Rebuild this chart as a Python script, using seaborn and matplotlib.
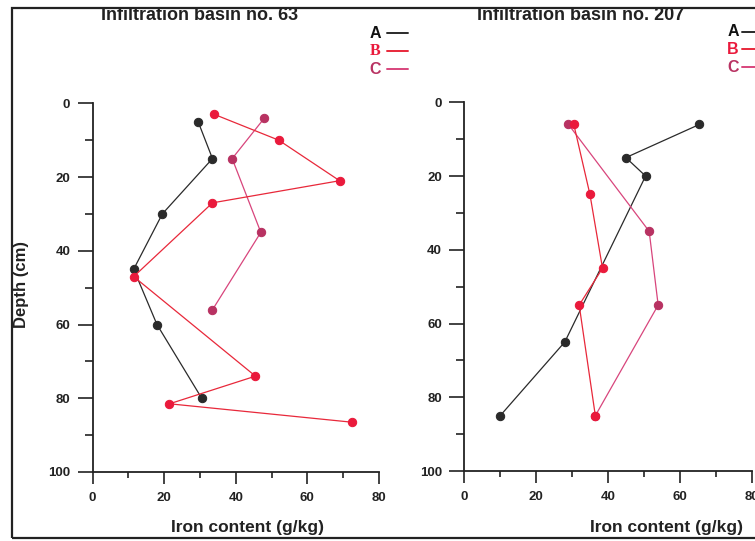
import matplotlib
matplotlib.use("Agg")
import matplotlib.pyplot as plt
from matplotlib.ticker import MultipleLocator
from matplotlib.lines import Line2D
from matplotlib.patches import Rectangle
import seaborn as sns
import pandas as pd

# ---- data ----
titles = ["Infiltration basin no. 63", "Infiltration basin no. 207"]
series_names = ["A", "B", "C"]

left_A_iron = [29.5, 33.5, 19.5, 11.5, 18, 30.5]
left_A_depth = [5, 15, 30, 45, 60, 80]
left_B_iron = [34, 52, 69, 33.5, 11.5, 45.5, 21.5, 72.5]
left_B_depth = [3, 10, 21, 27, 47, 74, 81.5, 86.5]
left_C_iron = [48, 39, 47, 33.5]
left_C_depth = [4, 15, 35, 56]

right_A_iron = [65.5, 45, 50.5, 28, 10]
right_A_depth = [6, 15, 20, 65, 85]
right_B_iron = [30.5, 35, 38.5, 32, 36.5]
right_B_depth = [6, 25, 45, 55, 85]
right_C_iron = [29, 51.5, 54, 36.5]
right_C_depth = [6, 35, 55, 85]

x_ticks = [0, 20, 40, 60, 80]
y_ticks = [0, 20, 40, 60, 80, 100]

line_colors = {"A": "#2a2a2a", "B": "#e8283a", "C": "#d8457c"}
marker_colors = {"A": "#2a2a2a", "B": "#ea1a3c", "C": "#b83262"}

sns.set_style("white")
plt.rcParams["font.family"] = ["Liberation Sans", "DejaVu Sans"]
plt.rcParams["font.weight"] = "bold"

W, H = 755, 541
fig = plt.figure(figsize=(W / 100, H / 100), dpi=100)


def fx(px):
    return px / W


def fy(py):
    return 1 - py / H


# frame
fig.add_artist(Rectangle((fx(12), fy(538)), 1.2, fy(7.5) - fy(538), transform=fig.transFigure,
                         fill=False, edgecolor="#222222", linewidth=1.6, clip_on=False))

panels = [
    dict(box=(92.5, 103.3, 379, 472), data={
        "A": (left_A_iron, left_A_depth),
        "B": (left_B_iron, left_B_depth),
        "C": (left_C_iron, left_C_depth)}),
    dict(box=(464.3, 102.3, 751.5, 471), data={
        "A": (right_A_iron, right_A_depth),
        "B": (right_B_iron, right_B_depth),
        "C": (right_C_iron, right_C_depth)}),
]

axes = []
for p in panels:
    x0, y0, x1, y1 = p["box"]
    ax = fig.add_axes([fx(x0), fy(y1), fx(x1) - fx(x0), fy(y0) - fy(y1)])
    ax.patch.set_alpha(0)
    for name in ["A", "C", "B"]:
        xs, ys = p["data"][name]
        df = pd.DataFrame({"iron": xs, "depth": ys})
        sns.lineplot(data=df, x="iron", y="depth", sort=False, estimator=None, ax=ax,
                     color=line_colors[name], linewidth=0.9, marker="o", markersize=6,
                     markerfacecolor=marker_colors[name], markeredgecolor=marker_colors[name],
                     legend=False)
    ax.set_xlim(0, 80)
    ax.set_ylim(100, 0)
    ax.set_xticks(x_ticks)
    ax.set_yticks(y_ticks)
    ax.xaxis.set_minor_locator(MultipleLocator(10))
    ax.yaxis.set_minor_locator(MultipleLocator(10))
    for s in ["top", "right"]:
        ax.spines[s].set_visible(False)
    for s in ["left", "bottom"]:
        ax.spines[s].set_color("#222222")
        ax.spines[s].set_linewidth(1.3)
    ax.tick_params(axis="x", which="major", direction="out", length=8.5, width=1.2,
                   pad=6, labelsize=9.5, colors="#222222", bottom=True)
    ax.tick_params(axis="x", which="minor", direction="out", length=4.5, width=1.2, bottom=True,
                   colors="#222222")
    ax.tick_params(axis="y", which="major", direction="out", length=11, width=1.2,
                   pad=5, labelsize=9.5, colors="#222222", left=True)
    ax.tick_params(axis="y", which="minor", direction="out", length=6, width=1.2, left=True,
                   colors="#222222")
    for lab in ax.get_xticklabels() + ax.get_yticklabels():
        lab.set_fontweight("bold")
    ax.set_xlabel("")
    ax.set_ylabel("")
    axes.append(ax)

# titles
fig.text(fx(200), fy(20.5), titles[0], ha="center", va="baseline", fontsize=13,
         fontweight="bold", color="#222222")
fig.text(fx(581), fy(20), titles[1], ha="center", va="baseline", fontsize=13,
         fontweight="bold", color="#222222")

# axis labels
fig.text(fx(248), fy(532), "Iron content (g/kg)", ha="center", va="baseline", fontsize=12.5,
         fontweight="bold", color="#222222")
fig.text(fx(667), fy(532), "Iron content (g/kg)", ha="center", va="baseline", fontsize=12.5,
         fontweight="bold", color="#222222")
fig.text(fx(21.5), fy(285), "Depth (cm)", ha="center", va="center", rotation=90, fontsize=12,
         fontweight="bold", color="#222222")

# legends
legend_specs = [
    dict(x=375, dash=(387, 408), ys=[33, 51, 69],
         fams=["Liberation Sans", "Liberation Serif", "Liberation Sans"]),
    dict(x=733, dash=(742, 760), ys=[32, 49, 67],
         fams=["Liberation Sans", "Liberation Sans", "Liberation Sans"]),
]
for spec in legend_specs:
    for name, yy, fam in zip(series_names, spec["ys"], spec["fams"]):
        col = marker_colors[name] if name != "A" else "#111111"
        fig.text(fx(spec["x"]), fy(yy), name, ha="center", va="center", fontsize=11.5,
                 fontweight="bold", color=col, family=[fam, "DejaVu Sans"])
        fig.add_artist(Line2D([fx(spec["dash"][0]), fx(spec["dash"][1])], [fy(yy), fy(yy)],
                              transform=fig.transFigure, color=line_colors[name], linewidth=1.4))

fig.savefig("out.png", dpi=100)
